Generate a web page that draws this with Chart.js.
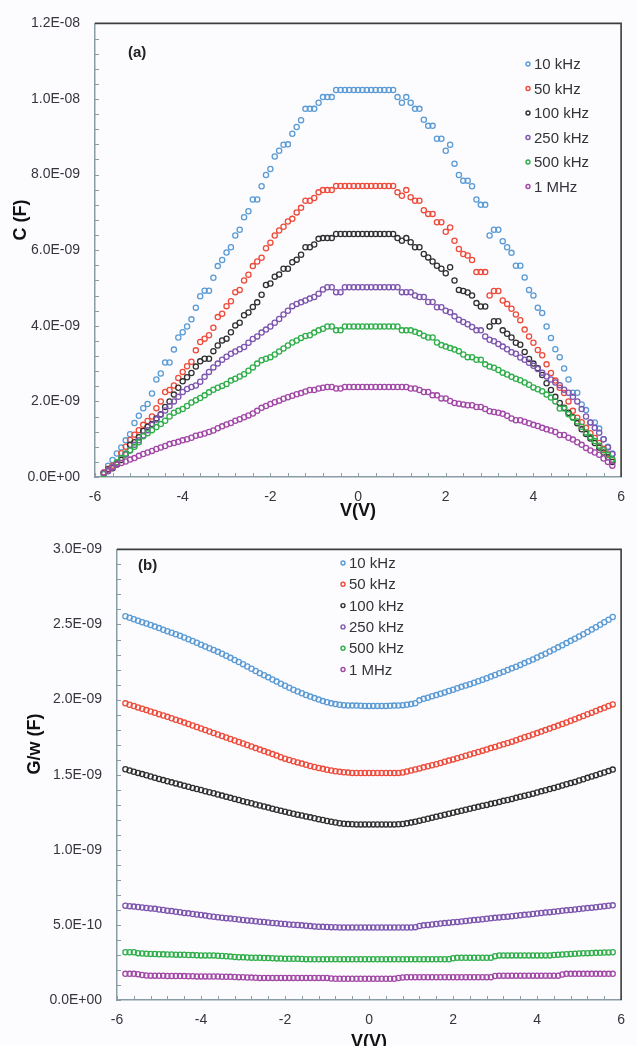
<!DOCTYPE html>
<html>
<head>
<meta charset="utf-8">
<script src="https://cdn.jsdelivr.net/npm/chart.js@4.4.1/dist/chart.umd.min.js"></script>
<style>
html,body{margin:0;padding:0;background:#fcfcfe;overflow:hidden;}
#wa{position:absolute;left:0;top:0;width:637px;height:526px;}
#wb{position:absolute;left:0;top:526px;width:637px;height:540px;}
</style>
</head>
<body>
<div id="wa"><canvas id="ca"></canvas></div>
<div id="wb"><canvas id="cb"></canvas></div>
<script>
// Bias voltage (V)
const V = [
-5.8,-5.7,-5.6,-5.5,-5.4,-5.3,-5.2,-5.1,-5.0,-4.9,
-4.8,-4.7,-4.6,-4.5,-4.4,-4.3,-4.2,-4.1,-4.0,-3.9,
-3.8,-3.7,-3.6,-3.5,-3.4,-3.3,-3.2,-3.1,-3.0,-2.9,
-2.8,-2.7,-2.6,-2.5,-2.4,-2.3,-2.2,-2.1,-2.0,-1.9,
-1.8,-1.7,-1.6,-1.5,-1.4,-1.3,-1.2,-1.1,-1.0,-0.9,
-0.8,-0.7,-0.6,-0.5,-0.4,-0.3,-0.2,-0.1,0.0,0.1,
0.2,0.3,0.4,0.5,0.6,0.7,0.8,0.9,1.0,1.1,
1.2,1.3,1.4,1.5,1.6,1.7,1.8,1.9,2.0,2.1,
2.2,2.3,2.4,2.5,2.6,2.7,2.8,2.9,3.0,3.1,
3.2,3.3,3.4,3.5,3.6,3.7,3.8,3.9,4.0,4.1,
4.2,4.3,4.4,4.5,4.6,4.7,4.8,4.9,5.0,5.1,
5.2,5.3,5.4,5.5,5.6,5.7,5.8];

const SERIES = ['10 kHz','50 kHz','100 kHz','250 kHz','500 kHz','1 MHz'];

// Panel (a): C in nF
const C_10k = [
0.12,0.30,0.45,0.62,0.78,0.97,1.13,1.43,1.62,1.82,
1.93,2.21,2.58,2.74,3.03,3.03,3.37,3.69,3.83,3.98,
4.17,4.48,4.78,4.93,4.93,5.27,5.58,5.74,5.94,6.08,
6.39,6.54,6.87,7.03,7.34,7.34,7.69,7.99,8.15,8.48,
8.63,8.79,8.80,9.08,9.26,9.44,9.74,9.74,9.74,9.90,
10.05,10.05,10.05,10.24,10.24,10.24,10.24,10.24,10.24,10.24,
10.24,10.24,10.24,10.24,10.24,10.24,10.24,10.05,9.90,10.05,
9.90,9.74,9.74,9.45,9.29,9.29,8.95,8.95,8.63,8.79,
8.29,7.99,7.84,7.84,7.69,7.34,7.20,7.20,6.39,6.54,
6.54,6.24,6.08,5.93,5.59,5.59,5.28,4.95,4.80,4.48,
4.34,3.98,3.68,3.38,3.17,2.87,2.58,2.23,2.23,1.92,
1.77,1.44,1.44,1.28,1.00,0.80,0.62];
const C_50k = [
0.12,0.22,0.30,0.36,0.63,0.80,0.98,1.12,1.24,1.38,
1.48,1.60,1.82,2.00,2.25,2.30,2.42,2.62,2.78,2.93,
3.05,3.35,3.57,3.66,3.75,3.95,4.23,4.32,4.52,4.65,
4.89,4.95,5.20,5.35,5.58,5.70,5.80,6.05,6.20,6.39,
6.52,6.62,6.76,6.83,7.00,7.12,7.31,7.31,7.38,7.53,
7.59,7.59,7.59,7.70,7.70,7.70,7.70,7.70,7.70,7.70,
7.70,7.70,7.70,7.70,7.70,7.70,7.70,7.53,7.44,7.59,
7.40,7.31,7.31,7.06,6.96,6.96,6.74,6.74,6.49,6.60,
6.25,6.03,5.90,5.86,5.74,5.42,5.42,5.42,4.80,4.92,
4.92,4.67,4.58,4.45,4.30,4.15,3.90,3.72,3.55,3.36,
3.22,2.98,2.75,2.55,2.36,2.22,2.00,1.75,1.57,1.45,
1.30,1.16,1.03,0.90,0.75,0.60,0.45];
const C_100k = [
0.10,0.20,0.23,0.33,0.45,0.60,0.85,0.92,1.05,1.22,
1.33,1.40,1.55,1.66,1.85,2.00,2.18,2.36,2.53,2.64,
2.75,2.92,3.06,3.13,3.13,3.33,3.48,3.61,3.66,3.83,
4.01,4.08,4.28,4.35,4.50,4.62,4.82,5.08,5.12,5.30,
5.36,5.51,5.51,5.68,5.75,5.88,6.08,6.08,6.15,6.30,
6.32,6.32,6.32,6.43,6.43,6.43,6.43,6.43,6.43,6.43,
6.43,6.43,6.43,6.43,6.43,6.43,6.43,6.32,6.25,6.32,
6.21,6.08,6.08,5.90,5.81,5.70,5.59,5.51,5.39,5.55,
5.20,4.95,4.92,4.88,4.80,4.60,4.51,4.51,3.98,4.12,
4.12,3.88,3.79,3.69,3.55,3.50,3.31,3.12,3.00,2.88,
2.70,2.48,2.30,2.12,1.96,1.83,1.70,1.58,1.42,1.26,
1.14,1.02,0.90,0.78,0.65,0.52,0.40];
const C_250k = [
0.08,0.15,0.25,0.38,0.50,0.60,0.71,0.85,0.97,1.10,
1.24,1.38,1.52,1.65,1.76,1.88,2.00,2.12,2.25,2.33,
2.38,2.42,2.52,2.65,2.78,2.90,3.00,3.10,3.18,3.26,
3.32,3.38,3.44,3.55,3.65,3.72,3.82,3.90,3.98,4.08,
4.18,4.30,4.40,4.52,4.58,4.62,4.67,4.72,4.76,4.85,
4.96,5.02,5.02,4.89,4.89,5.02,5.02,5.02,5.02,5.02,
5.02,5.02,5.02,5.02,5.02,5.02,5.02,5.02,4.89,4.89,
4.89,4.80,4.76,4.76,4.63,4.63,4.49,4.49,4.40,4.36,
4.25,4.16,4.10,4.04,3.97,3.88,3.88,3.72,3.63,3.59,
3.52,3.45,3.38,3.30,3.26,3.16,3.10,3.02,2.94,2.86,
2.76,2.66,2.58,2.50,2.43,2.31,2.23,2.12,2.00,1.80,
1.60,1.44,1.30,1.17,1.00,0.78,0.60];
const C_500k = [
0.08,0.18,0.27,0.39,0.50,0.62,0.70,0.80,0.92,1.08,
1.16,1.24,1.32,1.40,1.49,1.60,1.70,1.75,1.80,1.88,
1.97,2.03,2.09,2.16,2.24,2.31,2.36,2.41,2.46,2.55,
2.60,2.66,2.72,2.81,2.90,3.00,3.09,3.13,3.17,3.24,
3.32,3.40,3.48,3.56,3.61,3.68,3.73,3.75,3.82,3.88,
3.92,3.98,3.98,3.88,3.88,3.98,3.98,3.98,3.98,3.98,
3.98,3.98,3.98,3.98,3.98,3.98,3.98,3.98,3.88,3.88,
3.88,3.84,3.80,3.74,3.69,3.69,3.56,3.49,3.45,3.41,
3.37,3.33,3.24,3.17,3.17,3.10,3.10,2.98,2.92,2.89,
2.83,2.76,2.71,2.65,2.60,2.56,2.50,2.44,2.37,2.32,
2.27,2.18,2.10,2.00,1.81,1.81,1.66,1.57,1.47,1.33,
1.18,1.06,0.95,0.83,0.71,0.58,0.46];
const C_1M = [
0.11,0.18,0.26,0.33,0.37,0.41,0.46,0.50,0.56,0.61,
0.65,0.69,0.74,0.78,0.82,0.87,0.90,0.93,0.97,1.00,
1.04,1.09,1.12,1.15,1.19,1.23,1.29,1.34,1.39,1.43,
1.49,1.53,1.58,1.63,1.68,1.75,1.83,1.88,1.93,1.98,
2.02,2.07,2.11,2.15,2.19,2.22,2.26,2.30,2.30,2.34,
2.36,2.38,2.38,2.34,2.34,2.38,2.38,2.38,2.38,2.38,
2.38,2.38,2.38,2.38,2.38,2.38,2.38,2.38,2.38,2.38,
2.34,2.34,2.30,2.25,2.25,2.16,2.16,2.08,2.08,2.01,
1.96,1.94,1.92,1.90,1.90,1.85,1.85,1.80,1.74,1.72,
1.70,1.67,1.62,1.55,1.50,1.50,1.46,1.42,1.38,1.35,
1.30,1.26,1.23,1.19,1.11,1.11,1.04,0.99,0.92,0.85,
0.77,0.70,0.65,0.59,0.49,0.40,0.30];

// Panel (b): G/w in nF
const G_10k = [
2.555,2.545,2.535,2.525,2.515,2.507,2.497,2.486,2.476,2.465,
2.455,2.445,2.435,2.425,2.413,2.402,2.390,2.378,2.366,2.354,
2.342,2.331,2.318,2.305,2.292,2.278,2.264,2.250,2.236,2.220,
2.205,2.190,2.176,2.162,2.148,2.134,2.120,2.106,2.092,2.079,
2.066,2.054,2.042,2.031,2.020,2.010,2.000,1.990,1.982,1.975,
1.970,1.966,1.963,1.961,1.960,1.960,1.959,1.958,1.958,1.958,
1.958,1.958,1.958,1.959,1.960,1.961,1.963,1.966,1.970,1.976,
1.995,2.005,2.013,2.022,2.030,2.039,2.048,2.057,2.066,2.076,
2.085,2.094,2.103,2.112,2.122,2.132,2.142,2.153,2.164,2.175,
2.186,2.197,2.208,2.219,2.231,2.243,2.255,2.267,2.280,2.293,
2.306,2.320,2.334,2.348,2.362,2.376,2.391,2.405,2.420,2.435,
2.450,2.466,2.482,2.498,2.515,2.532,2.550];
const G_50k = [
1.975,1.966,1.957,1.948,1.939,1.930,1.921,1.912,1.903,1.894,
1.885,1.876,1.866,1.857,1.847,1.838,1.828,1.818,1.808,1.798,
1.788,1.778,1.768,1.758,1.748,1.738,1.728,1.718,1.708,1.698,
1.688,1.677,1.667,1.657,1.647,1.637,1.627,1.617,1.607,1.598,
1.590,1.582,1.574,1.566,1.558,1.551,1.545,1.539,1.533,1.528,
1.523,1.519,1.516,1.514,1.512,1.511,1.511,1.511,1.511,1.511,
1.511,1.511,1.511,1.511,1.511,1.512,1.515,1.521,1.528,1.535,
1.542,1.549,1.556,1.563,1.570,1.578,1.586,1.594,1.602,1.610,
1.618,1.626,1.634,1.643,1.651,1.660,1.668,1.677,1.685,1.694,
1.702,1.711,1.720,1.730,1.739,1.749,1.758,1.768,1.777,1.787,
1.797,1.807,1.817,1.827,1.838,1.848,1.859,1.869,1.880,1.891,
1.902,1.913,1.924,1.935,1.946,1.957,1.968];
const G_100k = [
1.536,1.528,1.520,1.512,1.504,1.496,1.488,1.480,1.472,1.464,
1.456,1.449,1.442,1.434,1.427,1.420,1.412,1.405,1.398,1.390,
1.383,1.376,1.368,1.361,1.354,1.346,1.339,1.332,1.324,1.317,
1.310,1.302,1.295,1.288,1.281,1.274,1.267,1.260,1.254,1.247,
1.240,1.234,1.228,1.222,1.216,1.210,1.204,1.198,1.192,1.187,
1.182,1.177,1.173,1.171,1.170,1.169,1.169,1.169,1.169,1.169,
1.169,1.169,1.169,1.169,1.169,1.170,1.172,1.176,1.181,1.187,
1.194,1.200,1.207,1.214,1.220,1.227,1.234,1.240,1.247,1.254,
1.260,1.267,1.273,1.280,1.286,1.293,1.299,1.306,1.312,1.319,
1.326,1.332,1.339,1.346,1.353,1.360,1.367,1.374,1.381,1.389,
1.396,1.404,1.412,1.420,1.428,1.436,1.444,1.452,1.461,1.470,
1.479,1.488,1.497,1.506,1.515,1.524,1.534];
const G_250k = [
0.628,0.625,0.622,0.619,0.616,0.613,0.610,0.607,0.603,0.599,
0.595,0.592,0.588,0.584,0.580,0.577,0.573,0.569,0.566,0.562,
0.558,0.554,0.551,0.548,0.545,0.542,0.539,0.536,0.533,0.530,
0.527,0.524,0.521,0.519,0.516,0.513,0.511,0.508,0.506,0.503,
0.501,0.499,0.497,0.495,0.492,0.490,0.488,0.487,0.486,0.485,
0.484,0.483,0.483,0.483,0.483,0.483,0.483,0.483,0.483,0.483,
0.483,0.483,0.483,0.483,0.483,0.483,0.483,0.483,0.483,0.485,
0.493,0.497,0.500,0.503,0.506,0.509,0.512,0.515,0.518,0.520,
0.523,0.526,0.529,0.532,0.535,0.538,0.541,0.544,0.547,0.550,
0.552,0.555,0.558,0.561,0.564,0.567,0.570,0.573,0.576,0.579,
0.582,0.585,0.588,0.591,0.594,0.597,0.600,0.603,0.606,0.609,
0.612,0.615,0.618,0.621,0.624,0.627,0.630];
const G_500k = [
0.318,0.318,0.318,0.312,0.310,0.308,0.307,0.306,0.305,0.304,
0.303,0.303,0.302,0.302,0.301,0.300,0.299,0.298,0.297,0.297,
0.297,0.297,0.295,0.293,0.291,0.289,0.287,0.285,0.284,0.283,
0.282,0.281,0.281,0.280,0.279,0.278,0.277,0.276,0.275,0.275,
0.275,0.274,0.273,0.272,0.271,0.271,0.271,0.271,0.271,0.271,
0.271,0.271,0.271,0.271,0.271,0.271,0.271,0.271,0.271,0.271,
0.271,0.271,0.271,0.271,0.271,0.271,0.271,0.271,0.271,0.271,
0.271,0.271,0.271,0.271,0.271,0.271,0.271,0.271,0.278,0.281,
0.281,0.281,0.281,0.281,0.281,0.281,0.281,0.281,0.292,0.297,
0.297,0.297,0.297,0.297,0.297,0.297,0.297,0.297,0.297,0.297,
0.297,0.297,0.300,0.302,0.303,0.305,0.307,0.308,0.310,0.311,
0.312,0.313,0.314,0.315,0.316,0.317,0.318];
const G_1M = [
0.174,0.174,0.174,0.172,0.166,0.163,0.162,0.162,0.161,0.161,
0.160,0.160,0.160,0.159,0.159,0.158,0.158,0.157,0.157,0.157,
0.156,0.156,0.156,0.155,0.155,0.154,0.153,0.152,0.151,0.150,
0.149,0.148,0.147,0.147,0.147,0.147,0.147,0.147,0.147,0.147,
0.147,0.147,0.147,0.147,0.147,0.147,0.147,0.147,0.147,0.143,
0.141,0.141,0.141,0.141,0.141,0.141,0.141,0.141,0.141,0.141,
0.141,0.141,0.141,0.141,0.141,0.146,0.150,0.151,0.151,0.151,
0.151,0.151,0.151,0.151,0.151,0.151,0.151,0.151,0.151,0.151,
0.151,0.151,0.151,0.151,0.151,0.151,0.151,0.151,0.160,0.162,
0.162,0.162,0.162,0.162,0.162,0.162,0.162,0.162,0.162,0.162,
0.162,0.162,0.162,0.162,0.170,0.174,0.174,0.174,0.174,0.174,
0.174,0.174,0.174,0.174,0.174,0.174,0.174];

const C_SERIES = [C_10k, C_50k, C_100k, C_250k, C_500k, C_1M];
const G_SERIES = [G_10k, G_50k, G_100k, G_250k, G_500k, G_1M];

const COLORS = ['#5b9bd5','#ee4b3b','#303030','#7d55ae','#2fae4a','#a248a6'];
const FONT = "'Liberation Sans', Arial, sans-serif";
Chart.defaults.font.family = FONT;

function sci(vNano) {
  const v = vNano * 1e-9;
  if (Math.abs(v) < 1e-20) return '0.0E+00';
  let e = Math.floor(Math.log10(Math.abs(v)) + 1e-9);
  let m = v / Math.pow(10, e);
  if (Math.round(m * 10) >= 100) { m /= 10; e += 1; }
  return m.toFixed(1) + 'E' + (e < 0 ? '-' : '+') + String(Math.abs(e)).padStart(2, '0');
}

function makeDatasets(list) {
  return list.map((ys, i) => ({
    label: SERIES[i],
    data: V.map((x, k) => ({x: x, y: ys[k]})),
    showLine: false,
    pointStyle: 'circle',
    pointRadius: 2.6,
    pointBorderWidth: 1.3,
    borderColor: COLORS[i],
    backgroundColor: 'rgba(255,255,255,0)',
    pointBackgroundColor: 'rgba(255,255,255,0)',
    order: list.length - i
  }));
}

const decor = {
  id: 'decor',
  afterDraw(chart, args, o) {
    const {ctx, chartArea: a, scales: {x, y}} = chart;
    ctx.save();
    // inner minor/major tick marks
    ctx.strokeStyle = '#8a9ca6';
    ctx.lineWidth = 1;
    ctx.beginPath();
    const ny = Math.round((y.max - y.min) / o.yMinor);
    for (let i = 0; i <= ny; i++) {
      const p = Math.round(y.getPixelForValue(y.min + i * o.yMinor)) + 0.5;
      ctx.moveTo(a.left, p); ctx.lineTo(a.left + 4, p);
    }
    const nx = Math.round((x.max - x.min) / o.xMinor);
    for (let i = 0; i <= nx; i++) {
      const p = Math.round(x.getPixelForValue(x.min + i * o.xMinor)) + 0.5;
      ctx.moveTo(p, a.bottom); ctx.lineTo(p, a.bottom - 4);
    }
    ctx.stroke();
    // top and right frame
    ctx.strokeStyle = '#3c3c3c';
    ctx.lineWidth = 1.6;
    ctx.beginPath();
    ctx.moveTo(a.left, a.top); ctx.lineTo(a.right, a.top); ctx.lineTo(a.right, a.bottom);
    ctx.stroke();
    // legend
    ctx.font = '15px ' + FONT;
    ctx.textBaseline = 'middle';
    ctx.textAlign = 'left';
    chart.data.datasets.forEach((d, i) => {
      const yy = o.legY + i * o.legDy;
      ctx.beginPath();
      ctx.arc(o.legX, yy, 2, 0, Math.PI * 2);
      ctx.strokeStyle = d.borderColor; ctx.lineWidth = 1.4; ctx.stroke();
      ctx.fillStyle = '#333338';
      ctx.fillText(d.label, o.legX + 6, yy + 1);
    });
    // panel label
    ctx.font = 'bold 15px ' + FONT;
    ctx.fillStyle = '#222';
    ctx.fillText(o.panel, o.panelX, o.panelY);
    // y-axis title
    ctx.translate(o.ytX, o.ytY);
    ctx.rotate(-Math.PI / 2);
    ctx.textAlign = 'center';
    ctx.font = 'bold 18px ' + FONT;
    ctx.fillStyle = '#111';
    ctx.fillText(o.yTitle, 0, 0);
    ctx.restore();
  }
};

function makeChart(id, list, cfg) {
  return new Chart(document.getElementById(id), {
    type: 'scatter',
    data: {datasets: makeDatasets(list)},
    plugins: [decor],
    options: {
      responsive: true,
      maintainAspectRatio: false,
      animation: false,
      layout: {padding: {left: 0, right: cfg.padR, top: cfg.padT, bottom: 0}},
      plugins: {
        legend: {display: false},
        tooltip: {enabled: false},
        decor: cfg.decor
      },
      scales: {
        x: {
          type: 'linear', min: -6, max: 6,
          afterFit: s => { s.height = cfg.xH; },
          ticks: {stepSize: 2, padding: 12, color: '#35353d', font: {size: 14}, maxRotation: 0},
          grid: {display: false, drawTicks: false},
          border: {display: true, color: '#8a9ca6', width: 1.5},
          title: {display: true, text: 'V(V)', color: '#111', font: {size: 18, weight: 'bold'}, padding: {top: 0, bottom: cfg.xtPad}}
        },
        y: {
          type: 'linear', min: 0, max: cfg.yMax,
          afterFit: s => { s.width = cfg.yW; },
          ticks: {stepSize: cfg.yStep, padding: 15, color: '#35353d', font: {size: 14}, callback: v => sci(v)},
          grid: {display: false, drawTicks: false},
          border: {display: true, color: '#8a9ca6', width: 1.5}
        }
      }
    }
  });
}

makeChart('ca', C_SERIES, {
  padR: 4, padT: 22, xH: 49, xtPad: 4, yMax: 12, yStep: 2, yW: 95,
  decor: {yMinor: 0.4, xMinor: 0.4, legX: 528, legY: 64, legDy: 24.5,
          panel: '(a)', panelX: 128, panelY: 53, yTitle: 'C (F)', ytX: 21, ytY: 220}
});
makeChart('cb', G_SERIES, {
  padR: 3, padT: 12, xH: 66, xtPad: 13, yMax: 3, yStep: 0.5, yW: 117,
  decor: {yMinor: 0.1, xMinor: 0.4, legX: 343, legY: 37, legDy: 21.3,
          panel: '(b)', panelX: 138, panelY: 40, yTitle: 'G/w (F)', ytX: 35, ytY: 218}
});
</script>
</body>
</html>
